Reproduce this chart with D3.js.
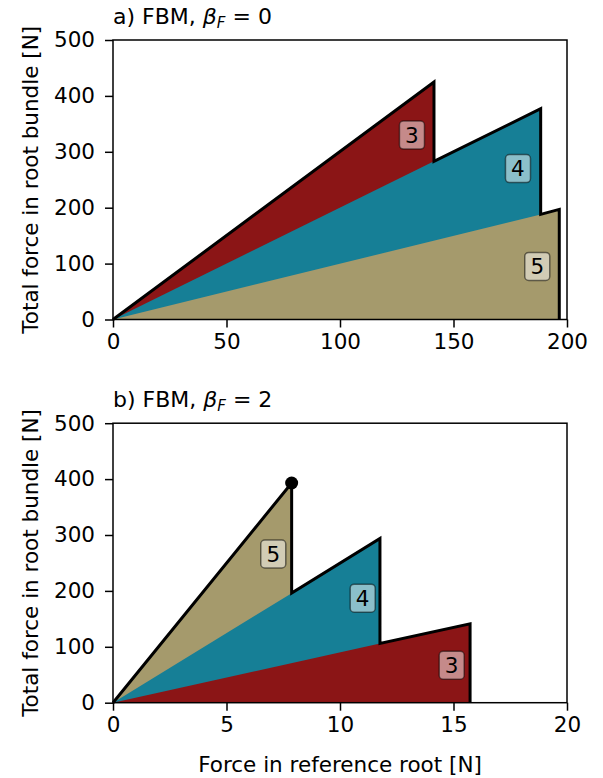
<!DOCTYPE html>
<html>
<head>
<meta charset="utf-8">
<script src="https://cdn.jsdelivr.net/npm/d3@7"></script>
<style>
  body { margin: 0; background: #fff; }
  svg text { font-family: "DejaVu Sans", sans-serif; fill: #000; }
</style>
</head>
<body>
<div id="chart"></div>
<script>
// panel a) beta_F = 0 : cumulative tops of each root class, x = force in reference root
var aRedTop  = [[0, 0], [141.4, 425]];
var aTealTop = [[0, 0], [141.4, 283], [188.4, 377]];
var aTanTop  = [[0, 0], [188.4, 188], [196.6, 197]];
var aLabels  = [["3", 131.7, 330], ["4", 178.4, 270], ["5", 186.9, 95]];

// panel b) beta_F = 2
var bTanTop  = [[0, 0], [7.87, 393]];
var bTealTop = [[0, 0], [7.87, 196], [11.76, 294]];
var bRedTop  = [[0, 0], [11.76, 106], [15.73, 141]];
var bLabels  = [["5", 7.06, 266], ["4", 11.0, 187], ["3", 14.92, 67]];
var bPeak    = [7.87, 393];

var aXTicks = [0, 50, 100, 150, 200];
var bXTicks = [0, 5, 10, 15, 20];
var yTicks  = [0, 100, 200, 300, 400, 500];

var red = "#8b1516", teal = "#167f96", tan = "#a59a6c";
var redBox = "#c58a8a", tealBox = "#8bbfca", tanBox = "#d2ccb5";

var W = 603, H = 778, FS = 21.5;
var svg = d3.select("#chart").append("svg")
	.attr("width", W)
	.attr("height", H);

function panel(top, xmax, xticks, layers, labels, title, beta, peak) {
	var left = 113, right = 567, bottom = top + 279.5;
	var x = d3.scaleLinear().domain([0, xmax]).range([left, right]);
	var y = d3.scaleLinear().domain([0, 500]).range([bottom, top]);
	var g = svg.append("g");

	// filled layers, each closed down to the x axis
	var outline = [];
	layers.forEach(function (l) {
		var pts = l.top.slice();
		var last = pts[pts.length - 1];
		pts.push([last[0], 0]);
		g.append("path")
			.attr("d", d3.line().x(d => x(d[0])).y(d => y(d[1]))(pts) + "Z")
			.attr("fill", l.color);
		var lx = outline.length ? outline[outline.length - 1][0] : -1;
		l.top.forEach(function (p) {
			if (p[0] >= lx && !(outline.length && p[0] == 0)) outline.push(p);
		});
	});
	var end = outline[outline.length - 1];
	outline.push([end[0], 0]);
	g.append("path")
		.attr("d", d3.line().x(d => x(d[0])).y(d => y(d[1]))(outline))
		.attr("fill", "none")
		.attr("stroke", "#000")
		.attr("stroke-width", 3)
		.attr("stroke-linejoin", "miter");

	if (peak) {
		g.append("circle")
			.attr("cx", x(peak[0]))
			.attr("cy", y(peak[1]))
			.attr("r", 6.5)
			.attr("fill", "#000");
	}

	// number boxes
	labels.forEach(function (d) {
		var cx = x(d[1]), cy = y(d[2]);
		g.append("rect")
			.attr("x", cx - 12.5).attr("y", cy - 14)
			.attr("width", 25).attr("height", 28)
			.attr("rx", 4)
			.attr("fill", d[3])
			.attr("stroke", "rgba(0,0,0,0.5)")
			.attr("stroke-width", 1.5);
		g.append("text")
			.attr("x", cx).attr("y", cy + 7.5)
			.attr("text-anchor", "middle")
			.attr("font-size", FS)
			.text(d[0]);
	});

	// frame
	g.append("rect")
		.attr("x", left).attr("y", top)
		.attr("width", right - left).attr("height", bottom - top)
		.attr("fill", "none")
		.attr("stroke", "#000")
		.attr("stroke-width", 1.5);

	var xa = g.append("g")
		.attr("transform", "translate(0," + bottom + ")")
		.call(d3.axisBottom(x).tickValues(xticks).tickSize(8).tickPadding(6).tickFormat(d3.format("d")));
	var ya = g.append("g")
		.attr("transform", "translate(" + left + ",0)")
		.call(d3.axisLeft(y).tickValues(yTicks).tickSize(8).tickPadding(10).tickFormat(d3.format("d")));
	[xa, ya].forEach(function (a) {
		a.select(".domain").remove();
		a.selectAll("line").attr("stroke-width", 1.5);
		a.selectAll("text").attr("font-size", FS).attr("font-family", "DejaVu Sans");
	});

	var t = g.append("text")
		.attr("x", left).attr("y", top - 16)
		.attr("font-size", FS + 0.5);
	t.append("tspan").text(title + ", ");
	t.append("tspan").attr("font-style", "italic").text("β");
	t.append("tspan").attr("font-style", "italic").attr("font-size", 15).attr("dy", 4).text("F");
	t.append("tspan").attr("dy", -4).text(" = " + beta);

	g.append("text")
		.attr("transform", "translate(38," + ((top + bottom) / 2) + ") rotate(-90)")
		.attr("text-anchor", "middle")
		.attr("font-size", FS)
		.text("Total force in root bundle [N]");
	return x;
}

panel(40, 200, aXTicks,
	[{ top: aRedTop, color: red }, { top: aTealTop, color: teal }, { top: aTanTop, color: tan }],
	[[aLabels[0][0], aLabels[0][1], aLabels[0][2], redBox],
	 [aLabels[1][0], aLabels[1][1], aLabels[1][2], tealBox],
	 [aLabels[2][0], aLabels[2][1], aLabels[2][2], tanBox]],
	"a) FBM", 0, null);

panel(423.2, 20, bXTicks,
	[{ top: bTanTop, color: tan }, { top: bTealTop, color: teal }, { top: bRedTop, color: red }],
	[[bLabels[0][0], bLabels[0][1], bLabels[0][2], tanBox],
	 [bLabels[1][0], bLabels[1][1], bLabels[1][2], tealBox],
	 [bLabels[2][0], bLabels[2][1], bLabels[2][2], redBox]],
	"b) FBM", 2, bPeak);

svg.append("text")
	.attr("x", 340).attr("y", 772)
	.attr("text-anchor", "middle")
	.attr("font-size", FS)
	.text("Force in reference root [N]");
</script>
</body>
</html>
